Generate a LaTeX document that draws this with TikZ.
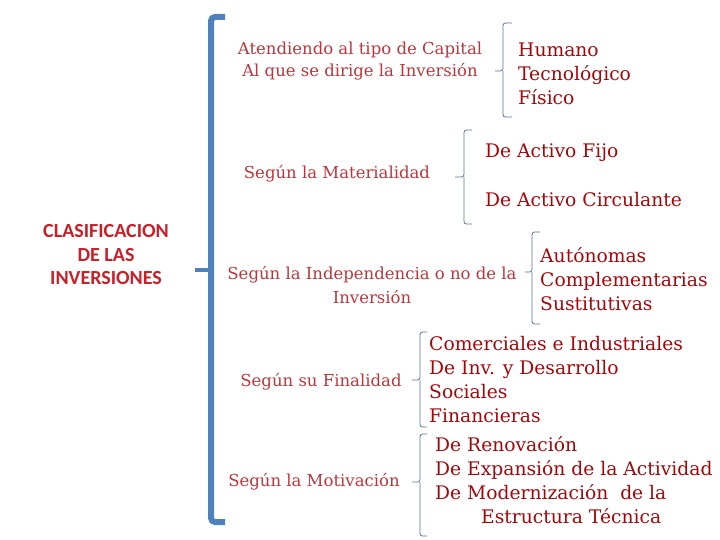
\documentclass[tikz,border=0pt]{standalone}
\usepackage{fontspec}
\setmainfont{DejaVu Serif}
\newfontfamily\titlefont{Carlito}
\definecolor{bigblue}{RGB}{79,129,189}
\definecolor{bracegray}{RGB}{85,115,145}
\definecolor{catred}{RGB}{185,55,60}
\definecolor{itemred}{RGB}{160,8,12}
\definecolor{titlered}{RGB}{200,32,40}
\tikzset{
  cat/.style={text=catred, align=center, inner sep=0pt, font=\fontsize{16.5}{22}\selectfont},
  item/.style={text=itemred, align=left, anchor=west, inner sep=0pt, font=\fontsize{18.7}{24}\selectfont},
  ttl/.style={text=titlered, align=center, inner sep=0pt, font=\titlefont\bfseries\fontsize{20}{23.5}\selectfont},
  smallbrace/.style={draw=bracegray, line width=0.8pt, rounded corners=2.5pt},
  bigbrace/.style={draw=bigblue, line width=6pt, rounded corners=4pt}
}
\begin{document}
\begin{tikzpicture}[x=1pt,y=-1pt]
\useasboundingbox (0,0) rectangle (720,540);
% title
\node[ttl] (title) at (106,255) {CLASIFICACION\\DE LAS\\INVERSIONES};
% big bracket
\draw[bigbrace] (225,17) -- (211,17) -- (211,522) -- (225,522);
\coordinate (notch) at (195,270);
\draw[draw=bigblue, line width=4.5pt] (notch) -- (211,270);
% categories
\node[cat] (c1) at (360,61) {Atendiendo al tipo de Capital\\Al que se dirige la Inversión};
\node[cat] (c2) at (337,174) {Según la Materialidad};
\node[cat, font=\fontsize{16.5}{24}\selectfont] (c3) at (372,285) {Según la Independencia o no de la\\Inversión};
\node[cat] (c4) at (321,382) {Según su Finalidad};
\node[cat] (c5) at (314,482) {Según la Motivación};
% items
\node[item] (i1) at (518,74) {Humano\\Tecnológico\\Físico};
\node[item] (i2a) at (485,153) {De Activo Fijo};
\node[item] (i2b) at (485,200) {De Activo Circulante};
\node[item] (i3) at (540,279) {Autónomas\\Complementarias\\Sustitutivas};
\node[item] (i4) at (429,380) {Comerciales e Industriales\\De Inv. y Desarrollo\\Sociales\\Financieras};
\node[item] (i5) at (435,480) {De Renovación\\De Expansión de la Actividad\\De Modernización\ \ de la\\\hspace*{46pt}Estructura Técnica};
% small braces
\draw[smallbrace] (512,23) -| (503,71) -- (495,71);
\draw[smallbrace] (503,71) |- (512,117);
\draw[smallbrace] (472,130) -| (464,177) -- (455,177);
\draw[smallbrace] (464,177) |- (472,224);
\draw[smallbrace] (540,232) -| (532,272) -- (525,272);
\draw[smallbrace] (532,272) |- (540,324);
\draw[smallbrace] (427,332) -| (420,380) -- (412,380);
\draw[smallbrace] (420,380) |- (427,427);
\draw[smallbrace] (427,434) -| (420,482) -- (412,482);
\draw[smallbrace] (420,482) |- (427,536);
\end{tikzpicture}
\end{document}
